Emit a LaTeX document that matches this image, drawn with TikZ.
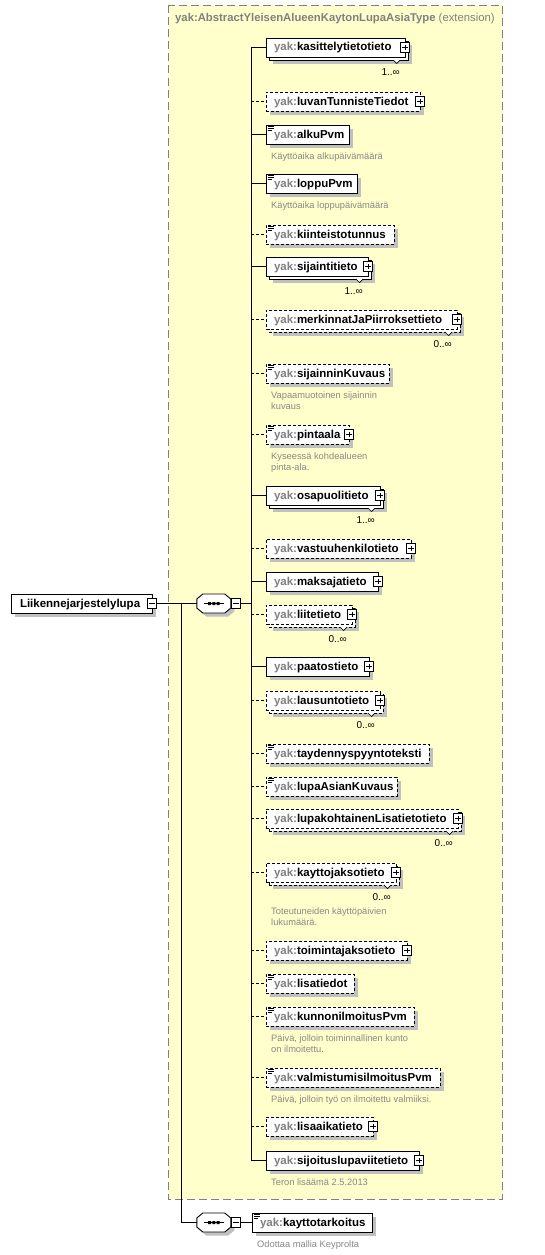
\documentclass[tikz,border=0pt]{standalone}
\usepackage{fontspec}
\setmainfont{Liberation Sans}
\usetikzlibrary{calc}
\definecolor{extfill}{RGB}{255,255,204}
\definecolor{extborder}{RGB}{128,128,128}
\definecolor{shadowc}{RGB}{192,192,192}
\definecolor{prefixc}{RGB}{128,128,128}
\definecolor{annc}{RGB}{136,136,136}
\pgfdeclarelayer{bg}\pgfdeclarelayer{shd}\pgfsetlayers{bg,shd,main}
\tikzset{
 elbox/.style={draw, fill=white, line width=0.9pt, inner xsep=8pt, inner ysep=0pt, minimum height=19pt, anchor=north west, outer sep=0pt, font=\fontsize{11.5}{13}\selectfont\bfseries, text height=9pt, text depth=2pt},
 opt/.style={dash pattern=on 3pt off 2pt},
 conn/.style={line width=0.9pt},
 pmbox/.style={draw, fill=white, line width=0.9pt, minimum size=9.5pt, inner sep=0pt, outer sep=0pt},
 mult/.style={font=\fontsize{10}{12}\selectfont, anchor=east, inner sep=0pt},
 ann/.style={font=\fontsize{9.3}{11.2}\selectfont, text=annc, anchor=north west, align=left, inner sep=0pt},
}
\newcommand\El[6]{%
 \pgfmathsetmacro\elw{#4-#2}%
 \node[elbox, minimum width=\elw pt, #6] (#1) at (#2,#3) {\makebox[\dimexpr\elw pt-16pt\relax][l]{\textcolor{prefixc}{yak:}#5}};}
\newcommand\Shd[1]{\begin{pgfonlayer}{shd}\fill[shadowc] ($(#1.north west)+(4,4)$) rectangle ($(#1.south east)+(4,4)$);\end{pgfonlayer}}
\newcommand\Back[5]{%
 \pgfmathsetmacro\elw{#4-#2}%
 \node[elbox, minimum width=\elw pt, #5] (#1) at (#2+3,#3+3) {};%
 \Shd{#1}}
\newcommand\Notch[1]{\filldraw[fill=white, line width=0.7pt] ($(#1.south east)+(-15,0)$) -- ++(3.5,3.5) -- ++(3.5,-3.5);}
\newcommand\Plus[1]{\node[pmbox] (#1p) at (#1.east) {};\draw[line width=0.9pt] ($(#1p.center)+(-2.6,0)$) -- ++(5.2,0) ($(#1p.center)+(0,-2.6)$) -- ++(0,5.2);}
\newcommand\MinusAt[2]{\node[pmbox] (#1) at (#2) {};\draw[line width=0.9pt] ($(#1.center)+(-2.6,0)$) -- ++(5.2,0);}
\newcommand\Icon[1]{\draw[line width=0.6pt] ($(#1.north west)+(1.5,1.6)$) -- ++(6,0) ($(#1.north west)+(1.5,3.3)$) -- ++(6,0) ($(#1.north west)+(1.5,5)$) -- ++(4.5,0);}
\newcommand\Mult[2]{\node[mult] (#1m) at ($(#1.north east)+(-5,34)$) {#2};}
\newcommand\Ann[4]{\node[ann] (#1) at (#2,#3) {\rule{0pt}{7.5pt}#4};}
\newcommand\Seq[3]{%
 \begin{pgfonlayer}{shd}\fill[shadowc,shift={(#2+3.5,#3+3.5)}] (-11,-9.5) -- (11,-9.5) -- (17,-4.5) -- (17,4.5) -- (11,9.5) -- (-11,9.5) -- (-17,4.5) -- (-17,-4.5) -- cycle;\end{pgfonlayer}%
 \filldraw[fill=white, line width=0.9pt, shift={(#2,#3)}] (-11,-9.5) -- (11,-9.5) -- (17,-4.5) -- (17,4.5) -- (11,9.5) -- (-11,9.5) -- (-17,4.5) -- (-17,-4.5) -- cycle;%
 \draw[line width=0.9pt, shift={(#2,#3)}] (-10,0) -- (10,0);%
 \fill[shift={(#2,#3)}] (-5.8,-1.5) rectangle (-2.8,1.5) (-1.5,-1.5) rectangle (1.5,1.5) (2.8,-1.5) rectangle (5.8,1.5);%
 \node[inner sep=0pt, outer sep=0pt, minimum width=34pt, minimum height=19pt] (#1) at (#2,#3) {};}
\begin{document}
\begin{tikzpicture}[x=1pt,y=-1pt]
\useasboundingbox (0,0) rectangle (545,1255);
\begin{pgfonlayer}{bg}
\fill[white] (0,0) rectangle (545,1255);
\filldraw[fill=extfill, draw=extborder, line width=0.9pt, dash pattern=on 8pt off 4pt] (168.5,5.5) rectangle (502,1199);
\end{pgfonlayer}
\node[anchor=base west, inner sep=0pt, font=\fontsize{11.3}{13}\selectfont, text=prefixc] (title) at (175,21.5) {\textbf{yak:AbstractYleisenAlueenKaytonLupaAsiaType} (extension)};
% root
\node[elbox, minimum width=141pt, inner xsep=9pt] (root) at (11,594) {\makebox[123pt][l]{Liikennejarjestelylupa}};
\Shd{root}
\MinusAt{rootp}{root.east}
\Seq{seq1}{213.8}{603.5}
\MinusAt{s1p}{$(seq1.east)+(5.2,0)$}
\coordinate (trunk) at (251,603.5);
\coordinate (outer) at (181,603.5);
% children
\Back{e1b}{266}{38}{405}{}
\El{e1}{266}{38}{405}{kasittelytietotieto}{}
\Plus{e1}\Mult{e1}{1..∞}\Notch{e1b}
\El{e2}{266}{92}{420}{luvanTunnisteTiedot}{opt}\Shd{e2}\Plus{e2}
\El{e3}{266}{125}{349}{alkuPvm}{}\Shd{e3}\Icon{e3}
\Ann{a3}{271}{152}{Käyttöaika alkupäivämäärä}
\El{e4}{266}{174}{357}{loppuPvm}{}\Shd{e4}\Icon{e4}
\Ann{a4}{271}{201}{Käyttöaika loppupäivämäärä}
\El{e5}{266}{225}{394}{kiinteistotunnus}{opt}\Shd{e5}\Icon{e5}
\Back{e6b}{266}{257}{368}{}
\El{e6}{266}{257}{368}{sijaintitieto}{}
\Plus{e6}\Mult{e6}{1..∞}\Notch{e6b}
\Back{e7b}{266}{310}{457}{opt}
\El{e7}{266}{310}{457}{merkinnatJaPiirroksettieto}{opt}
\Plus{e7}\Mult{e7}{0..∞}\Notch{e7b}
\El{e8}{266}{364}{389}{sijainninKuvaus}{opt}\Shd{e8}\Icon{e8}
\Ann{a8}{271}{391}{Vapaamuotoinen sijainnin\\kuvaus}
\El{e9}{266}{425}{349}{pintaala}{opt}\Shd{e9}\Icon{e9}\Plus{e9}
\Ann{a9}{271}{452}{Kyseessä kohdealueen\\pinta-ala.}
\Back{e10b}{266}{486}{380}{}
\El{e10}{266}{486}{380}{osapuolitieto}{}
\Plus{e10}\Mult{e10}{1..∞}\Notch{e10b}
\El{e11}{266}{539}{411}{vastuuhenkilotieto}{opt}\Shd{e11}\Plus{e11}
\El{e12}{266}{572}{378}{maksajatieto}{}\Shd{e12}\Plus{e12}
\Back{e13b}{266}{605}{352}{opt}
\El{e13}{266}{605}{352}{liitetieto}{opt}
\Plus{e13}\Mult{e13}{0..∞}\Notch{e13b}
\El{e14}{266}{657}{369}{paatostieto}{}\Shd{e14}\Plus{e14}
\Back{e15b}{266}{691}{380}{opt}
\El{e15}{266}{691}{380}{lausuntotieto}{opt}
\Plus{e15}\Mult{e15}{0..∞}\Notch{e15b}
\El{e16}{266}{744}{429}{taydennyspyyntoteksti}{opt}\Shd{e16}\Icon{e16}
\El{e17}{266}{777}{397}{lupaAsianKuvaus}{opt}\Shd{e17}\Icon{e17}
\Back{e18b}{266}{809}{458}{opt}
\El{e18}{266}{809}{458}{lupakohtainenLisatietotieto}{opt}
\Plus{e18}\Mult{e18}{0..∞}\Notch{e18b}
\Back{e19b}{266}{863}{396}{opt}
\El{e19}{266}{863}{396}{kayttojaksotieto}{opt}
\Plus{e19}\Mult{e19}{0..∞}\Notch{e19b}
\Ann{a19}{271}{907}{Toteutuneiden käyttöpäivien\\lukumäärä.}
\El{e20}{266}{941}{407}{toimintajaksotieto}{opt}\Shd{e20}\Plus{e20}
\El{e21}{266}{974}{354}{lisatiedot}{opt}\Shd{e21}\Icon{e21}
\El{e22}{266}{1007}{414}{kunnonilmoitusPvm}{opt}\Shd{e22}\Icon{e22}
\Ann{a22}{271}{1034}{Päivä, jolloin toiminnallinen kunto\\on ilmoitettu.}
\El{e23}{266}{1068}{440}{valmistumisilmoitusPvm}{opt}\Shd{e23}\Icon{e23}
\Ann{a23}{271}{1095}{Päivä, jolloin työ on ilmoitettu valmiiksi.}
\El{e24}{266}{1117}{373}{lisaaikatieto}{opt}\Shd{e24}\Plus{e24}
\El{e25}{266}{1151}{419}{sijoituslupaviitetieto}{}\Shd{e25}\Plus{e25}
\Ann{a25}{271}{1178}{Teron lisäämä 2.5.2013}
% second sequence
\Seq{seq2}{213.8}{1222.5}
\MinusAt{s2p}{$(seq2.east)+(5.2,0)$}
\El{kt}{252}{1213}{372}{kayttotarkoitus}{}\Shd{kt}\Icon{kt}
\Ann{akt}{257}{1240}{Odottaa mallia Keyprolta}
% connectors
\draw[conn] (rootp.east) -- (seq1.west);
\draw[conn] (s1p.east) -- (trunk);
\draw[conn] (trunk |- e1.west) -- (trunk |- e25.west);
\draw[conn] (outer) |- (seq2.west);
\draw[conn] (s2p.east) -- (kt.west);
\foreach \n in {e1,e3,e4,e6,e10,e12,e14,e25}{\draw[conn] (trunk |- \n.west) -- (\n.west);}
\foreach \n in {e2,e5,e7,e8,e9,e11,e13,e15,e16,e17,e18,e19,e20,e21,e22,e23,e24}{\draw[conn,opt] (trunk |- \n.west) -- (\n.west);}
\end{tikzpicture}
\end{document}
